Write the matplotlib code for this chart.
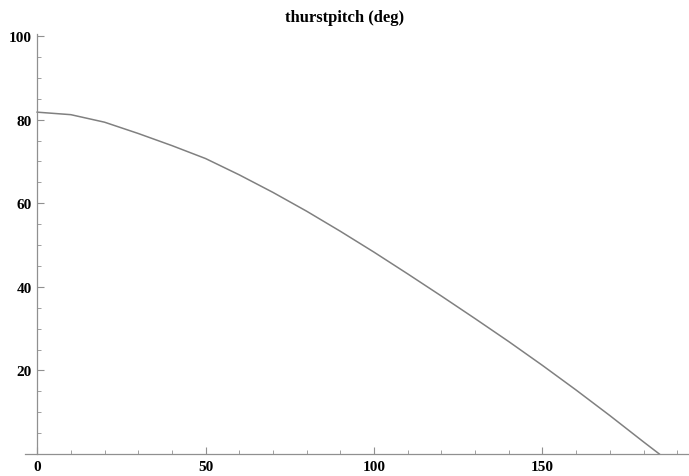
import matplotlib
matplotlib.use("Agg")
import matplotlib.pyplot as plt
from matplotlib.ticker import MultipleLocator

# thrust pitch angle over time
t = [0, 10, 20, 30, 40, 50, 60, 70, 80, 90, 100,
     110, 120, 130, 140, 150, 160, 170, 180, 184.7]
pitch = [81.8, 81.2, 79.4, 76.7, 73.8, 70.7, 66.8, 62.6, 58.1, 53.3, 48.3,
         43.1, 37.8, 32.4, 26.9, 21.2, 15.3, 9.2, 2.9, 0.0]

plt.rcParams['font.family'] = ['Liberation Serif', 'DejaVu Serif']

fig = plt.figure(figsize=(6.89, 4.77), dpi=100)
ax = fig.add_axes([0.0363, 0.0461, 0.9637, 0.8805])
ax.plot(t, pitch, color='#808080', lw=1.1)

ax.set_xlim(-3.6, 193.5)
ax.set_ylim(0, 100.5)

for s in ['top', 'right']:
    ax.spines[s].set_visible(False)
ax.spines['left'].set_position(('data', 0))
ax.spines['bottom'].set_position(('data', 0))
for s in ['left', 'bottom']:
    ax.spines[s].set_color('#909090')
    ax.spines[s].set_linewidth(0.9)

ax.xaxis.set_major_locator(MultipleLocator(50))
ax.xaxis.set_minor_locator(MultipleLocator(10))
ax.yaxis.set_major_locator(MultipleLocator(20))
ax.yaxis.set_minor_locator(MultipleLocator(5))
ax.set_yticks([20, 40, 60, 80, 100])
ax.tick_params(which='both', direction='in', color='#909090')
ax.tick_params(which='major', length=5, width=0.8, labelsize=11, pad=4)
ax.tick_params(which='minor', length=3, width=0.6)
for lab in ax.get_xticklabels() + ax.get_yticklabels():
    lab.set_fontweight('bold')

fig.text(0.5, 0.962, 'thurstpitch (deg)', ha='center', va='center',
         fontsize=12, fontweight='bold')

fig.savefig('out.png', dpi=100)
